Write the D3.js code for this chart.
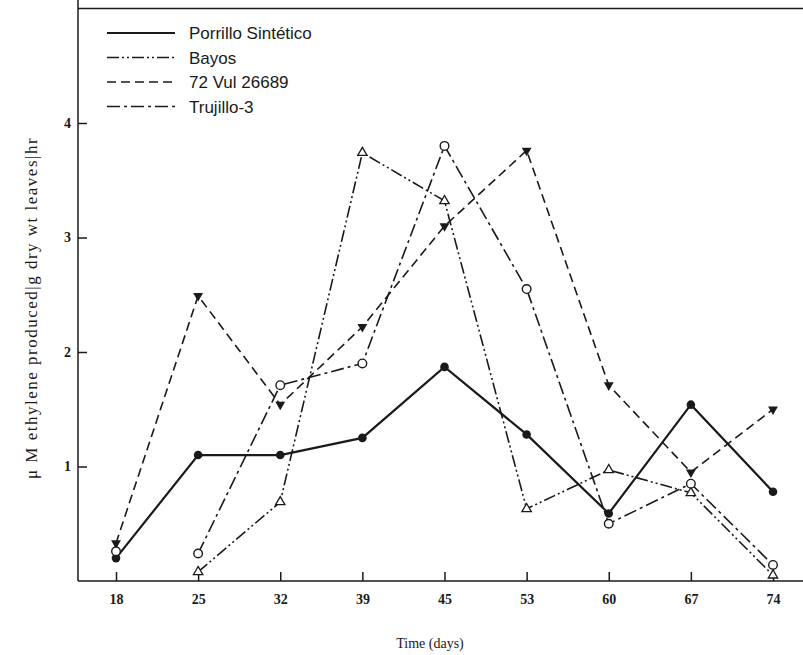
<!DOCTYPE html>
<html><head><meta charset="utf-8">
<script src="https://cdn.jsdelivr.net/npm/d3@7/dist/d3.min.js"></script>
<style>body{margin:0;background:#fff}svg{display:block}</style>
</head><body>
<svg id="c" width="803" height="655"></svg>
<script>
const days = ["18","25","32","39","45","53","60","67","74"];
const yTicks = [1,2,3,4];
const porrillo = [0.20,1.10,1.10,1.25,1.87,1.28,0.59,1.54,0.78];
const bayos    = [null,0.08,0.69,3.74,3.32,0.63,0.97,0.77,0.05];
const vul      = [0.33,2.49,1.54,2.22,3.10,3.76,1.71,0.95,1.50];
const trujillo = [0.26,0.24,1.71,1.90,3.80,2.55,0.50,0.85,0.14];
const trujilloLineStart = 1; // point at day 18 not connected
const legendNames = ["Porrillo Sintético","Bayos","72 Vul 26689","Trujillo-3"];

const svg = d3.select("#c");
const x = d3.scalePoint().domain(days).range([116,773]);
const y = d3.scaleLinear().domain([0,5]).range([581,8.5]);

const ink = "#1a1a1a";
// frame
svg.append("line").attr("x1",78).attr("x2",78).attr("y1",0).attr("y2",581).attr("stroke",ink).attr("stroke-width",1.5);
svg.append("line").attr("x1",78).attr("x2",803).attr("y1",y(5)).attr("y2",y(5)).attr("stroke",ink).attr("stroke-width",1.5);

const xAxis = svg.append("g").attr("transform","translate(0,581)")
  .call(d3.axisBottom(x).tickSizeInner(-9).tickSizeOuter(0).tickPadding(13));
xAxis.select(".domain").attr("d","M78,0H803");
const yAxis = svg.append("g").attr("transform","translate(78,0)")
  .call(d3.axisLeft(y).tickValues(yTicks).tickFormat(d3.format("d")).tickSizeInner(-9).tickSizeOuter(0).tickPadding(7));
yAxis.select(".domain").remove();
[xAxis,yAxis].forEach(g=>{
  g.selectAll("line,path").attr("stroke",ink).attr("stroke-width",1.5);
  g.selectAll("text").attr("font-family","Liberation Serif").attr("font-size",14).attr("font-weight","bold").attr("fill",ink);
});

svg.append("text").attr("x",430).attr("y",648).attr("text-anchor","middle")
  .attr("font-family","Liberation Serif").attr("font-size",14).attr("fill",ink).text("Time (days)");
svg.append("text").attr("transform","translate(37,308) rotate(-90)").attr("text-anchor","middle")
  .attr("font-family","Liberation Serif").attr("font-size",17).attr("letter-spacing",1.5).attr("fill",ink)
  .text("μ M ethylene produced|g dry wt leaves|hr");

const series = [
  {name:legendNames[0], vals:porrillo, dash:null, w:2.2, marker:"fcircle", start:0},
  {name:legendNames[1], vals:bayos, dash:"12,3,2,3,2,3", w:1.6, marker:"otri", start:1},
  {name:legendNames[2], vals:vul, dash:"9,5", w:1.6, marker:"ftri", start:0},
  {name:legendNames[3], vals:trujillo, dash:"13,4,3,4", w:1.6, marker:"ocircle", start:trujilloLineStart},
];

const line = d3.line().defined(d=>d.v!=null).x(d=>x(d.day)).y(d=>y(d.v));
series.forEach(s=>{
  const pts = days.map((d,i)=>({day:d,v:s.vals[i]}));
  svg.append("path").datum(pts.slice(s.start)).attr("d",line).attr("fill","none")
    .attr("stroke",ink).attr("stroke-width",s.w).attr("stroke-dasharray",s.dash);
});
series.forEach(s=>{
  const pts = days.map((d,i)=>({day:d,v:s.vals[i]})).filter(p=>p.v!=null);
  const g = svg.append("g");
  pts.forEach(p=>{
    const cx=x(p.day), cy=y(p.v);
    if(s.marker==="fcircle") g.append("circle").attr("cx",cx).attr("cy",cy).attr("r",4.3).attr("fill",ink);
    else if(s.marker==="ocircle") g.append("circle").attr("cx",cx).attr("cy",cy).attr("r",4.3).attr("fill","#fff").attr("stroke",ink).attr("stroke-width",1.4);
    else if(s.marker==="otri") g.append("path").attr("d",d3.symbol(d3.symbolTriangle,38)()).attr("transform",`translate(${cx},${cy})`).attr("fill","#fff").attr("stroke",ink).attr("stroke-width",1.3);
    else g.append("path").attr("d",d3.symbol(d3.symbolTriangle,42)()).attr("transform",`translate(${cx},${cy}) rotate(180)`).attr("fill",ink);
  });
});

// legend
const lg = svg.append("g");
series.forEach((s,i)=>{
  const ly = 33 + i*24.5;
  lg.append("line").attr("x1",107).attr("x2",175).attr("y1",ly).attr("y2",ly)
    .attr("stroke",ink).attr("stroke-width",s.w).attr("stroke-dasharray",s.dash);
  lg.append("text").attr("x",189).attr("y",ly+6).attr("font-family","Liberation Sans").attr("font-size",17).attr("textLength",null)
    .attr("fill",ink).text(s.name);
});
</script>
</body></html>
